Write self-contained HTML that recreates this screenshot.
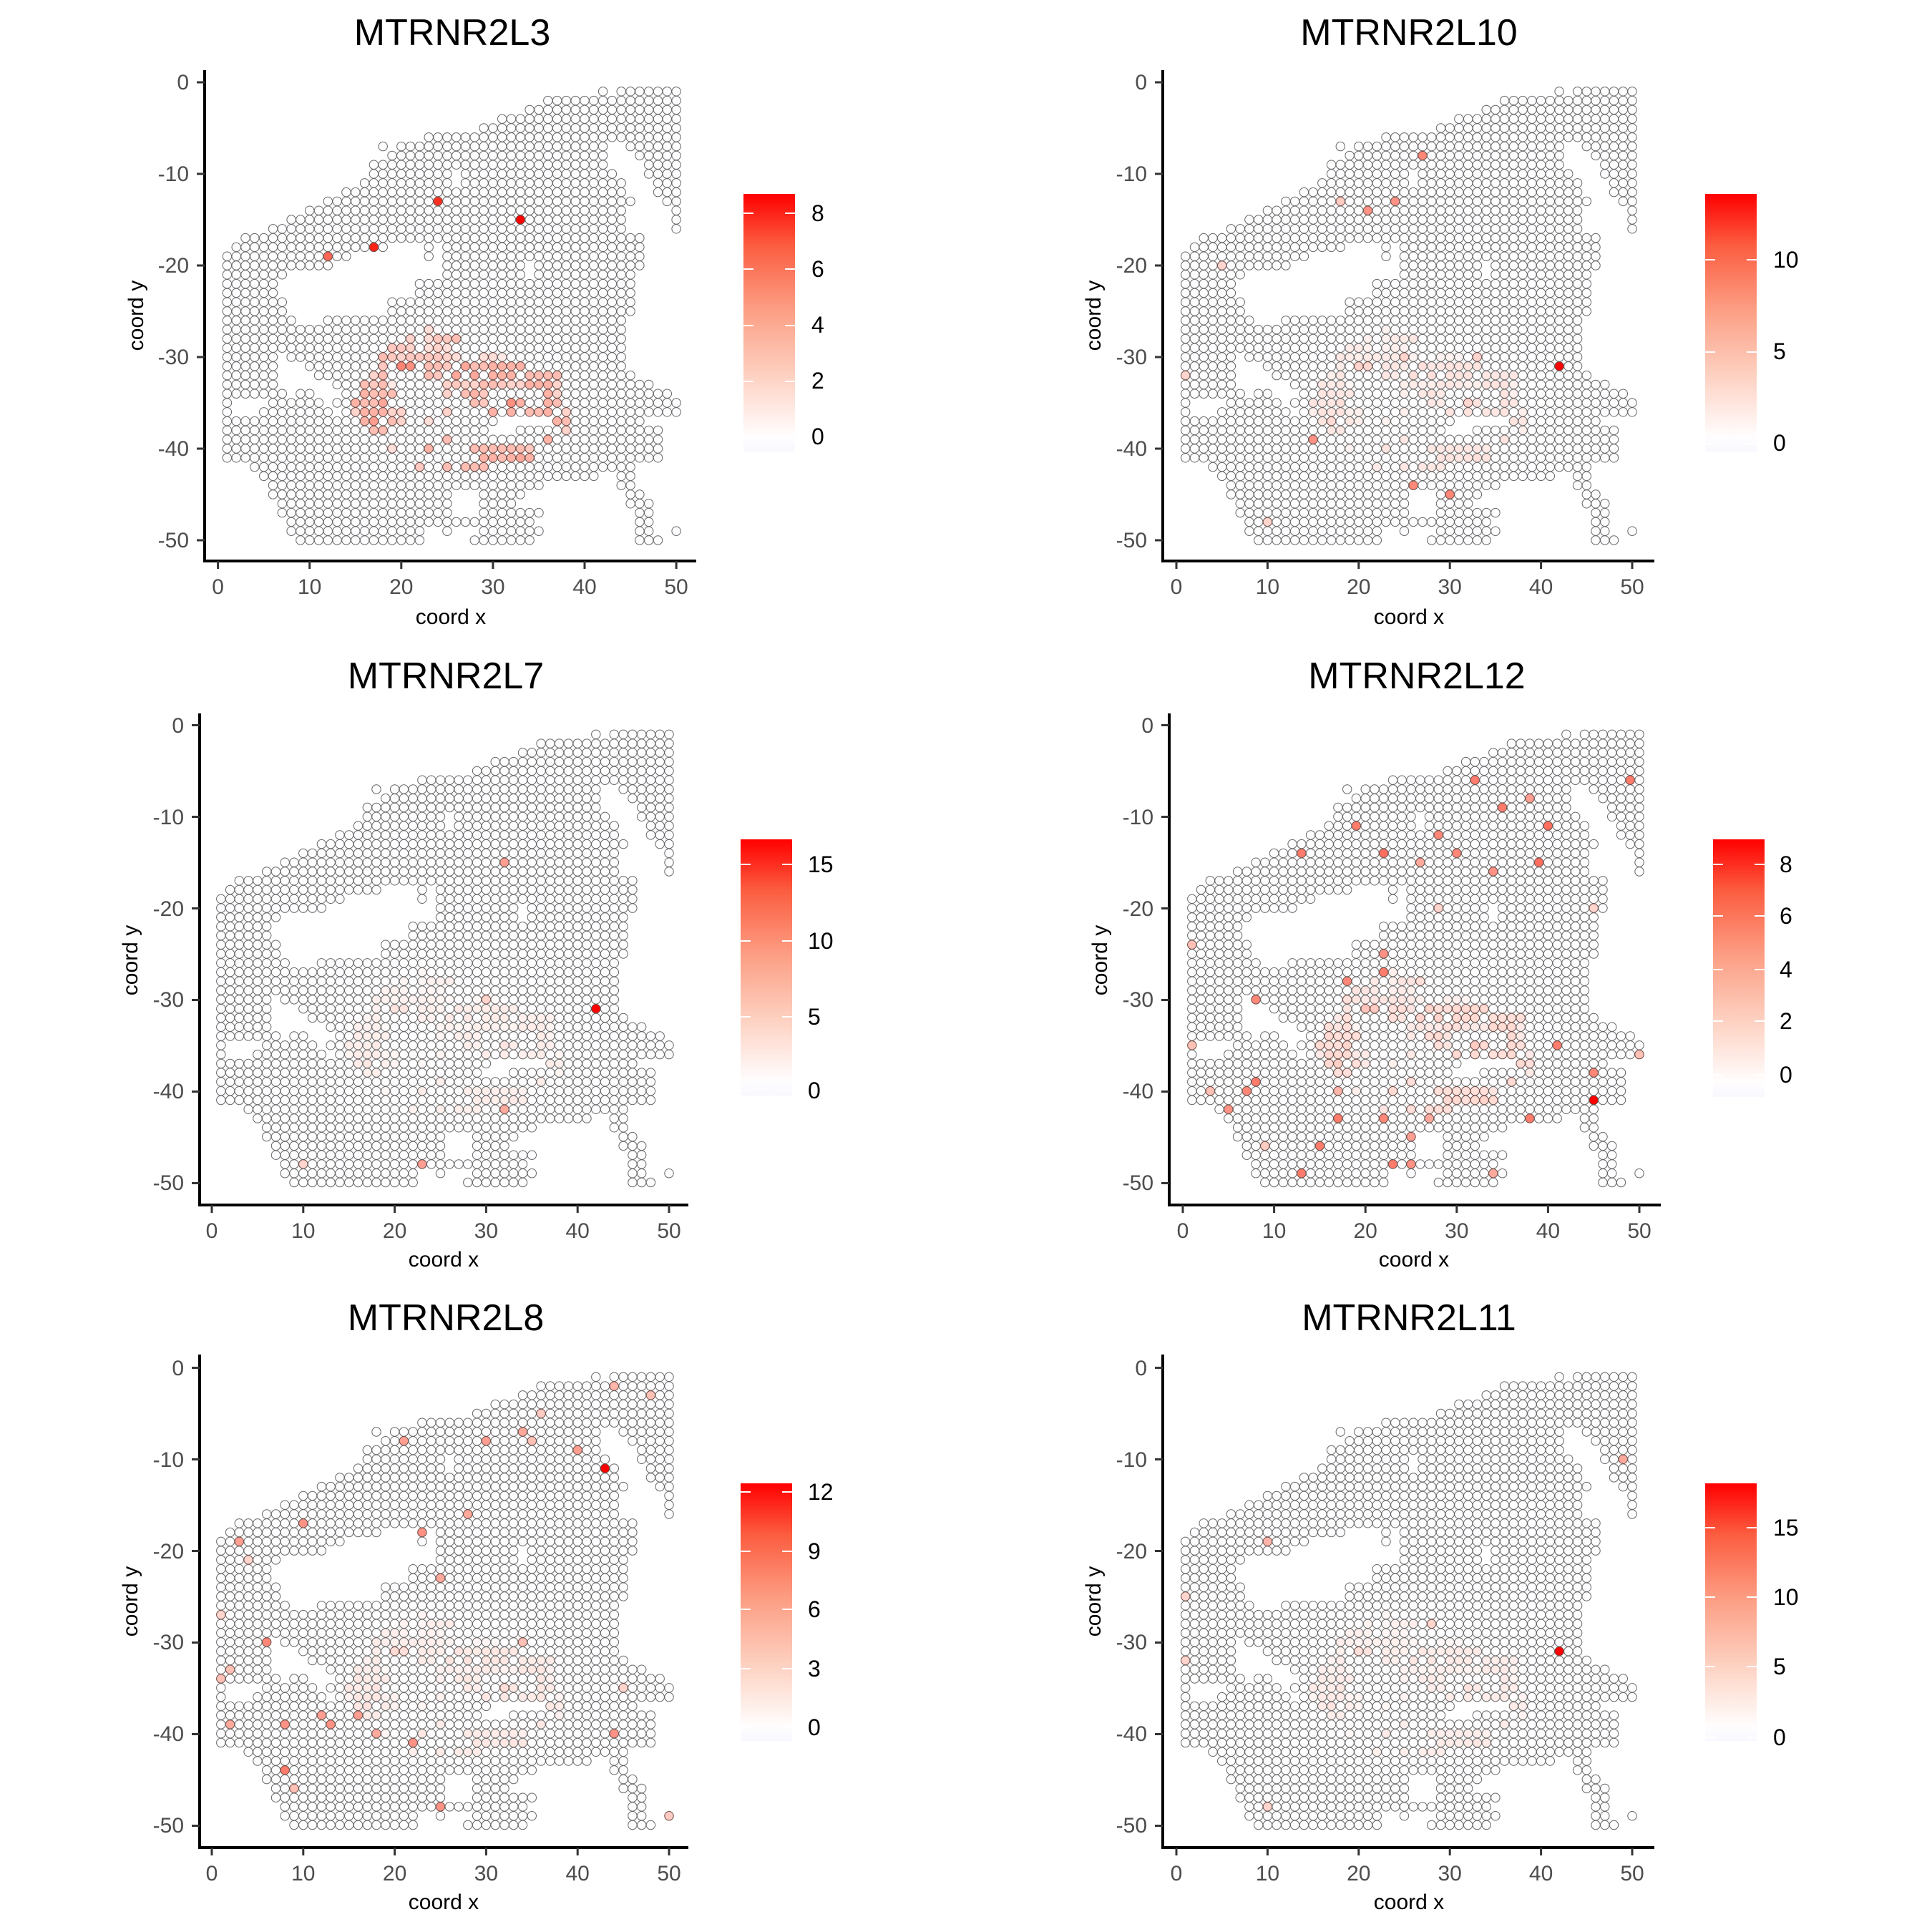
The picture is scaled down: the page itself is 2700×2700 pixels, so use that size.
<!DOCTYPE html>
<html><head><meta charset="utf-8"><style>
html,body{margin:0;padding:0;background:#fff;}
svg{display:block;font-family:"Liberation Sans",Arial,sans-serif;}
.t{font-size:52px;fill:#000;text-anchor:middle;}
.yl{font-size:30px;fill:#4d4d4d;text-anchor:end;}
.xl{font-size:30px;fill:#4d4d4d;text-anchor:middle;}
.al{font-size:30px;fill:#000;text-anchor:middle;}
.lg{font-size:32px;fill:#000;}
</style></head><body>
<svg id="s" width="2700" height="2700" viewBox="0 0 2700 2700" xmlns="http://www.w3.org/2000/svg">
<defs>
<linearGradient id="g" x1="0" y1="1" x2="0" y2="0">
<stop offset="0" stop-color="#f8f8ff"/><stop offset="0.06" stop-color="#fffdfd"/>
<stop offset="0.3" stop-color="#fdd0c0"/><stop offset="0.55" stop-color="#fc9e84"/>
<stop offset="0.8" stop-color="#fb5d40"/><stop offset="1" stop-color="#ff0000"/>
</linearGradient>
</defs>
<g id="dots"></g>
<g stroke="#000" stroke-width="4" fill="none">
<path d="M286,98V784H973"/><path d="M1625,98V784H2312"/>
<path d="M279,997V1684H962"/><path d="M1634,997V1684H2321"/>
<path d="M279,1893V2582H962"/><path d="M1625,1893V2582H2312"/>
</g>
<g id="ticks" stroke="#333" stroke-width="3"></g>
<text class="t" x="632" y="63">MTRNR2L3</text>
<text class="t" x="1969" y="63">MTRNR2L10</text>
<text class="t" x="623" y="962">MTRNR2L7</text>
<text class="t" x="1980" y="962">MTRNR2L12</text>
<text class="t" x="623" y="1859">MTRNR2L8</text>
<text class="t" x="1969" y="1859">MTRNR2L11</text>
<text class="al" x="630" y="872">coord x</text>
<text class="al" x="1969" y="872">coord x</text>
<text class="al" x="620" y="1770">coord x</text>
<text class="al" x="1976" y="1770">coord x</text>
<text class="al" x="620" y="2668">coord x</text>
<text class="al" x="1969" y="2668">coord x</text>
<text class="al" transform="translate(200,441) rotate(-90)">coord y</text>
<text class="al" transform="translate(1538,441) rotate(-90)">coord y</text>
<text class="al" transform="translate(192,1342) rotate(-90)">coord y</text>
<text class="al" transform="translate(1547,1342) rotate(-90)">coord y</text>
<text class="al" transform="translate(192,2238) rotate(-90)">coord y</text>
<text class="al" transform="translate(1538,2238) rotate(-90)">coord y</text>
<g class="yl"><text x="264" y="125">0</text><text x="264" y="253">-10</text><text x="264" y="381">-20</text><text x="264" y="509">-30</text><text x="264" y="637">-40</text><text x="264" y="765">-50</text></g>
<g class="xl"><text x="304.6" y="830">0</text><text x="432.7" y="830">10</text><text x="560.8" y="830">20</text><text x="688.9" y="830">30</text><text x="817" y="830">40</text><text x="945" y="830">50</text></g>
<g class="yl"><text x="1603" y="125">0</text><text x="1603" y="253">-10</text><text x="1603" y="381">-20</text><text x="1603" y="509">-30</text><text x="1603" y="637">-40</text><text x="1603" y="765">-50</text></g>
<g class="xl"><text x="1644" y="830">0</text><text x="1771.4" y="830">10</text><text x="1898.8" y="830">20</text><text x="2026.2" y="830">30</text><text x="2153.6" y="830">40</text><text x="2281" y="830">50</text></g>
<g class="yl"><text x="257" y="1024">0</text><text x="257" y="1152">-10</text><text x="257" y="1280">-20</text><text x="257" y="1407">-30</text><text x="257" y="1535">-40</text><text x="257" y="1663">-50</text></g>
<g class="xl"><text x="296" y="1730">0</text><text x="423.8" y="1730">10</text><text x="551.6" y="1730">20</text><text x="679.4" y="1730">30</text><text x="807.2" y="1730">40</text><text x="935" y="1730">50</text></g>
<g class="yl"><text x="1612" y="1024">0</text><text x="1612" y="1152">-10</text><text x="1612" y="1280">-20</text><text x="1612" y="1407">-30</text><text x="1612" y="1535">-40</text><text x="1612" y="1663">-50</text></g>
<g class="xl"><text x="1653" y="1730">0</text><text x="1780.6" y="1730">10</text><text x="1908.2" y="1730">20</text><text x="2035.8" y="1730">30</text><text x="2163.4" y="1730">40</text><text x="2291" y="1730">50</text></g>
<g class="yl"><text x="257" y="1922">0</text><text x="257" y="2050">-10</text><text x="257" y="2178">-20</text><text x="257" y="2305">-30</text><text x="257" y="2433">-40</text><text x="257" y="2561">-50</text></g>
<g class="xl"><text x="296" y="2628">0</text><text x="423.8" y="2628">10</text><text x="551.6" y="2628">20</text><text x="679.4" y="2628">30</text><text x="807.2" y="2628">40</text><text x="935" y="2628">50</text></g>
<g class="yl"><text x="1603" y="1922">0</text><text x="1603" y="2050">-10</text><text x="1603" y="2178">-20</text><text x="1603" y="2305">-30</text><text x="1603" y="2433">-40</text><text x="1603" y="2561">-50</text></g>
<g class="xl"><text x="1644" y="2628">0</text><text x="1771.4" y="2628">10</text><text x="1898.8" y="2628">20</text><text x="2026.2" y="2628">30</text><text x="2153.6" y="2628">40</text><text x="2281" y="2628">50</text></g>
<rect x="1039" y="271" width="72" height="360" fill="url(#g)"/>
<rect x="2383" y="271" width="72" height="360" fill="url(#g)"/>
<rect x="1035" y="1173" width="72" height="358" fill="url(#g)"/>
<rect x="2394" y="1173" width="72" height="360" fill="url(#g)"/>
<rect x="1035" y="2073" width="72" height="360" fill="url(#g)"/>
<rect x="2383" y="2073" width="72" height="360" fill="url(#g)"/>
<g id="lt" stroke="#fff" stroke-width="2"></g>
<g class="lg">
<text x="1134" y="309">8</text><text x="1134" y="387">6</text><text x="1134" y="465">4</text><text x="1134" y="543">2</text><text x="1134" y="621">0</text>
<text x="2478" y="374">10</text><text x="2478" y="502">5</text><text x="2478" y="630">0</text>
<text x="1129" y="1219">15</text><text x="1129" y="1326">10</text><text x="1129" y="1432">5</text><text x="1129" y="1535">0</text>
<text x="2487" y="1219">8</text><text x="2487" y="1291">6</text><text x="2487" y="1366">4</text><text x="2487" y="1438">2</text><text x="2487" y="1513">0</text>
<text x="1129" y="2096">12</text><text x="1129" y="2179">9</text><text x="1129" y="2260">6</text><text x="1129" y="2343">3</text><text x="1129" y="2425">0</text>
<text x="2478" y="2146">15</text><text x="2478" y="2243">10</text><text x="2478" y="2340">5</text><text x="2478" y="2439">0</text>
</g>
</svg>
<script>
(function(){
var R={1:[[42,42],[44,50]],2:[[36,50]],3:[[34,50]],4:[[31,50]],5:[[29,50]],6:[[23,50]],
7:[[18,18],[20,42],[45,50]],8:[[19,42],[46,50]],9:[[17,42],[47,50]],10:[[17,25],[27,43],[47,50]],
11:[[16,25],[27,44],[48,50]],12:[[14,44],[48,50]],13:[[12,45],[49,50]],14:[[10,44],[50,50]],
15:[[8,44],[50,50]],16:[[6,44],[50,50]],17:[[3,46]],18:[[2,18],[23,23],[25,46]],19:[[1,14],[23,23],[25,46]],
20:[[1,12],[25,33],[35,46]],21:[[1,7],[25,33],[35,45]],22:[[1,6],[22,45]],23:[[1,6],[22,45]],
24:[[1,7],[19,45]],25:[[1,7],[19,45]],26:[[1,8],[12,44]],27:[[1,44]],28:[[1,44]],29:[[1,44]],
30:[[1,6],[8,44]],31:[[1,6],[10,44]],32:[[1,6],[11,45]],33:[[1,6],[13,47]],34:[[1,7],[9,10],[14,49]],
35:[[1,1],[6,11],[13,50]],36:[[1,1],[5,12],[14,50]],37:[[1,30],[37,46]],38:[[1,29],[33,48]],
39:[[1,48]],40:[[1,48]],41:[[1,48]],42:[[4,45]],43:[[5,41],[44,45]],44:[[6,35],[44,45]],
45:[[6,25],[29,33],[45,46]],46:[[7,25],[29,32],[45,47]],47:[[7,25],[29,35],[46,47]],48:[[8,34],[46,47]],
49:[[8,22],[25,25],[29,35],[46,47],[50,50]],50:[[9,22],[28,34],[46,48]]};
var C="27:23:1.5|28:21:2,23:1.5,24:2.5,25:2.5,26:3|29:19:2.5,20:2.5,21:2,23:1.5,24:2,25:1.5|30:18:3,19:2.5,20:2,21:2.5,22:2.5,23:2.5,24:2.5,25:2,26:1.5,29:1.5,30:1.5,31:1|31:18:2.5,20:5.5,21:5,23:3,24:3,25:2.5,27:4,28:3,29:3,30:3.5,31:3.5,32:3.5,33:3.5|32:17:2,18:3,23:3,24:2.5,26:4,28:4,30:3.5,31:3.5,32:3.5,34:3,35:3,36:3,37:3|33:16:3,17:2.5,18:3,19:1,25:2,26:2.5,27:2,28:2,29:3,30:3,31:2.5,32:2,33:2,34:3.5,35:3.5,36:3.5,37:2|34:16:3.5,17:3,18:3,19:3,25:2,27:3,28:3.5,29:2.5,36:3.5,37:2|35:15:3.5,16:3,17:3,18:4,28:3,29:2.5,32:5,33:3.5,36:3.5,37:3|36:15:2,16:3.5,17:3.5,18:3.5,19:2,20:2,25:2,30:3.5,32:3.5,34:3,35:3,36:3.5,38:2|37:16:3.5,17:4.5,19:3,20:2,23:1.5,37:3.5,38:3|38:17:3,18:3,38:2|39:25:3,36:3.5|40:19:1.5,23:3.5,28:3,29:3,30:3,31:3,32:3,33:3,34:2.5|41:29:3.5,30:3.5,31:3,32:3.5,33:4,34:3.5|42:22:2.5,25:3,27:3,28:3,29:3";
var clus={};
C.split("|").forEach(function(s){var r=+s.split(":")[0];s.substring(s.indexOf(":")+1).split(",").forEach(function(q){var a=q.split(":");clus[a[0]+","+r]=+a[1];});});
function sp(str){var m={};str.split(" ").forEach(function(q){var a=q.split(",");m[a[0]+","+a[1]]=+a[2];});return m;}
var P=[
{ox:304.6,sx:12.81,oy:115,sy:12.8,cf:0.9/8.8,s:sp("24,13,.88 33,15,1 17,18,.92 12,19,.68")},
{ox:1644,sx:12.74,oy:115,sy:12.8,cf:0.3/8,s:sp("27,8,.55 21,14,.5 24,13,.5 18,13,.25 5,20,.2 42,31,1 15,39,.5 26,44,.55 30,45,.55 10,48,.2 1,32,.2 25,30,.2 33,30,.2")},
{ox:296,sx:12.78,oy:1013.5,sy:12.78,cf:0.2/8,s:sp("32,15,.45 42,31,1 32,42,.4 23,48,.45 10,48,.2 30,30,.2")},
{ox:1653,sx:12.76,oy:1013.5,sy:12.78,cf:0.4/8,s:sp("32,6,.6 49,6,.6 35,9,.6 38,8,.45 19,11,.6 40,11,.65 13,14,.6 22,14,.65 28,12,.55 30,14,.55 26,15,.4 34,16,.5 39,15,.65 22,25,.5 22,27,.6 18,28,.55 8,30,.55 28,20,.2 41,35,.6 45,38,.55 45,41,1 38,43,.6 8,39,.6 7,40,.55 5,42,.5 17,43,.6 22,43,.55 15,46,.6 13,49,.6 23,48,.6 25,48,.5 9,46,.25 1,35,.3 1,24,.3 50,36,.3 17,40,.35 25,45,.45 27,43,.4 34,49,.4 45,20,.2 3,40,.3")},
{ox:296,sx:12.78,oy:1911.5,sy:12.78,cf:0.25/8,s:sp("43,11,1 44,2,.35 48,3,.3 40,9,.45 34,7,.4 30,8,.45 35,8,.3 36,5,.25 21,8,.45 17,7,.3 10,17,.5 23,18,.5 28,16,.4 3,19,.45 4,21,.2 25,23,.4 1,27,.2 6,30,.55 2,33,.3 1,34,.3 8,39,.5 2,39,.4 12,38,.45 13,39,.5 16,38,.45 18,40,.4 8,44,.6 9,46,.3 22,41,.5 25,48,.5 44,40,.5 48,49,.3 50,49,.25 34,30,.3 45,35,.2")},
{ox:1644,sx:12.74,oy:1911.5,sy:12.78,cf:0.22/8,s:sp("42,31,1 49,10,.4 10,19,.35 1,25,.2 1,32,.2 10,48,.2 28,28,.2")}
];
function col(t){if(t<=0)return "#fdfdff";t=Math.min(1,t);var g=Math.round(255*Math.pow(1-t,0.8)),b=Math.round(255*Math.pow(1-t,0.95));return "rgb(255,"+g+","+b+")";}
var h=[];
P.forEach(function(p){
 for(var r=1;r<=50;r++){var rs=R[r];if(!rs)continue;
  rs.forEach(function(rg){for(var x=rg[0];x<=rg[1];x++){
   var k=x+","+r;var t=0;
   if(p.s[k]!==undefined)t=p.s[k];else if(clus[k]!==undefined)t=clus[k]*p.cf;
   var cx=(p.ox+x*p.sx).toFixed(1),cy=(p.oy+r*p.sy).toFixed(1);
   h.push('<circle cx="'+cx+'" cy="'+cy+'" r="6.2" fill="'+col(t)+'" stroke="'+(t>0.15?"#6a4a44":"#666")+'" stroke-width="1"/>');
  }});
 }
});
document.getElementById("dots").innerHTML=h.join("");
var T=[[286,115,304.6,12.81,784],[1625,115,1644,12.74,784],[279,1013.5,296,12.78,1684],[1634,1013.5,1653,12.76,1684],[279,1911.5,296,12.78,2582],[1625,1911.5,1644,12.74,2582]];
var th=[];
T.forEach(function(a){for(var i=0;i<6;i++){var y=a[1]+i*10*12.8;th.push('<line x1="'+(a[0]-11)+'" y1="'+y+'" x2="'+a[0]+'" y2="'+y+'"/>');var x=a[2]+i*10*a[3];th.push('<line x1="'+x+'" y1="'+a[4]+'" x2="'+x+'" y2="'+(a[4]+11)+'"/>');}});
document.getElementById("ticks").innerHTML=th.join("");
var L=[[1039,[298,376,455,533,610]],[2383,[363,492,620]],[1035,[1208,1315,1421,1524]],[2394,[1208,1280,1355,1427,1502]],[1035,[2085,2168,2249,2332,2414]],[2383,[2135,2232,2329,2428]]];
var lh=[];
L.forEach(function(a){a[1].forEach(function(y){lh.push('<line x1="'+a[0]+'" y1="'+y+'" x2="'+(a[0]+14)+'" y2="'+y+'"/><line x1="'+(a[0]+58)+'" y1="'+y+'" x2="'+(a[0]+72)+'" y2="'+y+'"/>');});});
document.getElementById("lt").innerHTML=lh.join("");
})();
</script>
</body></html>
